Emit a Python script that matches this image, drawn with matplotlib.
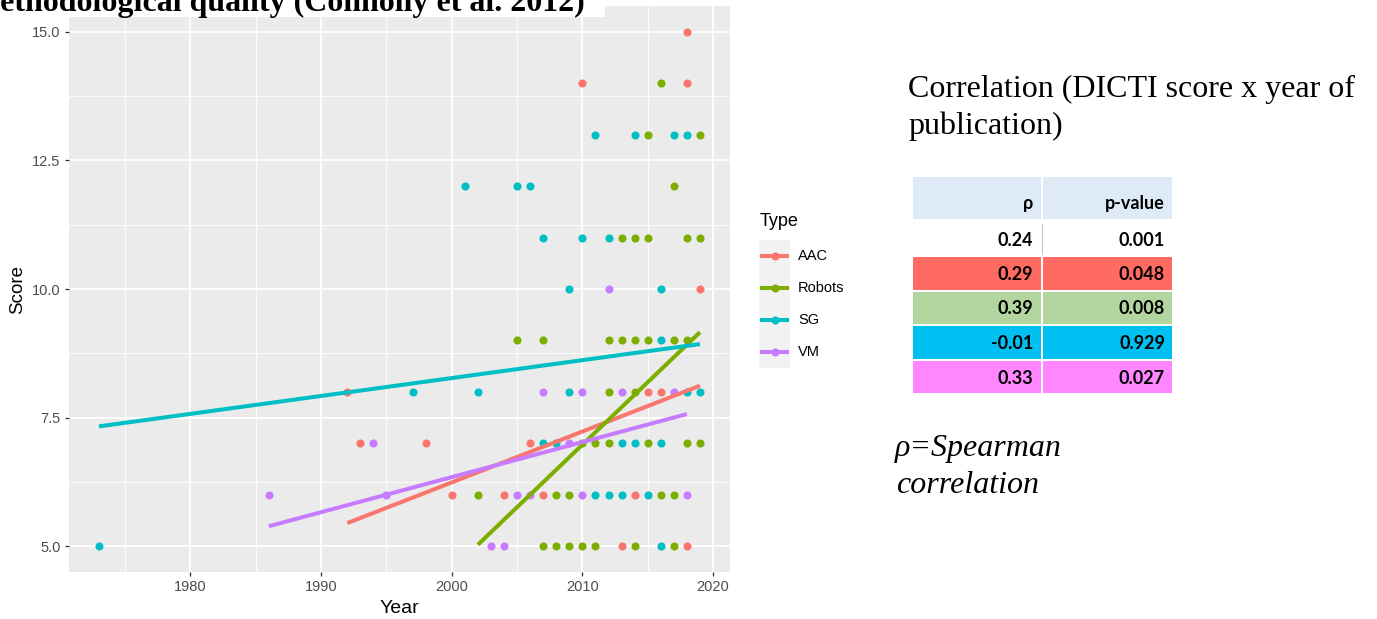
import numpy as np
import matplotlib
matplotlib.use("Agg")
import matplotlib.pyplot as plt
from matplotlib.patches import Rectangle
from matplotlib.lines import Line2D

# ---------------- data ----------------
types = ["AAC", "Robots", "SG", "VM"]
colors = ["#F8766D", "#7CAE00", "#00BFC4", "#C77CFF"]

aac_year  = [2018, 2010, 2018, 2019, 2015, 2016, 1992, 1993, 1998, 2006, 2000, 2004, 2007, 2014, 2013, 2018]
aac_score = [15,   14,   14,   10,   8,    8,    8,    7,    7,    7,    6,    6,    6,    6,    5,    5]

rob_year  = [2016, 2015, 2019, 2017, 2013, 2014, 2015, 2018, 2019,
             2005, 2007, 2012, 2013, 2014, 2015, 2017, 2018,
             2012, 2014, 2010, 2011, 2012, 2015, 2018, 2019,
             2002, 2008, 2009, 2016, 2017,
             2007, 2008, 2009, 2010, 2011, 2014, 2017]
rob_score = [14, 13, 13, 12, 11, 11, 11, 11, 11,
             9, 9, 9, 9, 9, 9, 9, 9,
             8, 8, 7, 7, 7, 7, 7, 7,
             6, 6, 6, 6, 6,
             5, 5, 5, 5, 5, 5, 5]

sg_year  = [2011, 2014, 2017, 2018, 2001, 2005, 2006, 2007, 2010, 2012, 2009, 2016, 2016,
            1997, 2002, 2009, 2018, 2019, 2007, 2008, 2013, 2014, 2016,
            2011, 2012, 2013, 2015, 1973, 2016]
sg_score = [13, 13, 13, 13, 12, 12, 12, 11, 11, 11, 10, 10, 9,
            8, 8, 8, 8, 8, 7, 7, 7, 7, 7,
            6, 6, 6, 6, 5, 5]

vm_year  = [2012, 2007, 2010, 2013, 2017, 1994, 2009, 1986, 1995, 2005, 2006, 2010, 2018, 2003, 2004]
vm_score = [10,   8,    8,    8,    8,    7,    7,    6,    6,    6,    6,    6,    6,    5,    5]

years = [aac_year, rob_year, sg_year, vm_year]
scores = [aac_score, rob_score, sg_score, vm_score]

# linear-fit lines: start/end year and fitted score
fit_start_year  = [1992, 2002, 1973, 1986]
fit_end_year    = [2019, 2019, 2019, 2018]
fit_start_score = [5.45, 5.03, 7.33, 5.39]
fit_end_score   = [8.12, 9.16, 8.93, 7.57]

x_ticks = [1980, 1990, 2000, 2010, 2020]
y_ticks = [5.0, 7.5, 10.0, 12.5, 15.0]

table_header = ["ρ", "p-value"]
table_rho  = ["0.24", "0.29", "0.39", "-0.01", "0.33"]
table_pval = ["0.001", "0.048", "0.008", "0.929", "0.027"]
table_colors = ["#FFFFFF", "#FF6A62", "#B3D59F", "#00BFF1", "#FF86FF"]

# ---------------- figure ----------------
W, H = 1377, 619
fig = plt.figure(figsize=(W / 100, H / 100), dpi=100)
fig.patch.set_facecolor("white")

def px_rect(l, t, r, b):
    return [l / W, 1 - b / H, (r - l) / W, (b - t) / H]

sans = "Liberation Sans"
serif = "Liberation Serif"

ax = fig.add_axes(px_rect(69, 6, 730, 572))
ax.set_facecolor("#EBEBEB")
for s in ax.spines.values():
    s.set_visible(False)
ax.set_xlim(1970.7, 2021.3)
ax.set_ylim(4.5, 15.5)
ax.set_xticks(x_ticks)
ax.set_yticks(y_ticks)
ax.set_yticklabels([f"{v:.1f}" for v in y_ticks])
ax.set_xticks([1975, 1985, 1995, 2005, 2015], minor=True)
ax.set_yticks([6.25, 8.75, 11.25, 13.75], minor=True)
ax.grid(True, which="major", color="white", linewidth=1.3)
ax.grid(True, which="minor", color="white", linewidth=0.6)
ax.set_axisbelow(True)
ax.tick_params(which="major", length=3, width=0.9, color="#333333",
               labelcolor="#4D4D4D", labelsize=10.5, pad=3)
ax.tick_params(which="minor", length=0)
for lab in ax.get_xticklabels() + ax.get_yticklabels():
    lab.set_fontfamily(sans)
ax.set_xlabel("Year", fontsize=14, fontfamily=sans, labelpad=4)
ax.set_ylabel("Score", fontsize=13.5, fontfamily=sans, labelpad=4)

for i in range(len(types)):
    ax.scatter(years[i], scores[i], s=34, color=colors[i], linewidths=0, zorder=3)
for i in range(len(types)):
    ax.plot([fit_start_year[i], fit_end_year[i]],
            [fit_start_score[i], fit_end_score[i]],
            color=colors[i], lw=2.9, solid_capstyle="butt", zorder=4)

# ---------------- overlay in pixel coords ----------------
ov = fig.add_axes([0, 0, 1, 1])
ov.set_xlim(0, W)
ov.set_ylim(H, 0)
ov.axis("off")
ov.patch.set_visible(False)

# cropped title (cut off by the top edge, as in the reference)
ov.add_patch(Rectangle((0, 0), 605, 17, facecolor="white", edgecolor="none", zorder=1))
ov.text(585, 11, "Methodological quality (Connolly et al. 2012)", ha="right", va="baseline",
        fontsize=23, fontweight="bold", fontfamily=serif, zorder=2, clip_on=False)

# legend
ov.text(760, 221, "Type", ha="left", va="center", fontsize=13, fontfamily=sans)
for i, t in enumerate(types):
    cy = 256 + 32 * i
    ov.add_patch(Rectangle((759, cy - 16), 31, 32, facecolor="#F2F2F2", edgecolor="none"))
    ov.add_line(Line2D([762, 787], [cy, cy], color=colors[i], lw=2.9))
    ov.plot([774.5], [cy], "o", color=colors[i], ms=5.8, mew=0)
    ov.text(798, cy, t, ha="left", va="center", fontsize=10.5, fontfamily=sans)

# right-hand text
ov.text(908, 97, "Correlation (DICTI score x year of", ha="left", va="baseline",
        fontsize=23, fontfamily=serif)
ov.text(908, 134, "publication)", ha="left", va="baseline", fontsize=23, fontfamily=serif)
ov.text(895, 456, "ρ=Spearman", ha="left", va="baseline", fontsize=23,
        fontfamily=serif, style="italic")
ov.text(896, 493, "correlation", ha="left", va="baseline", fontsize=23,
        fontfamily=serif, style="italic")

# table
tfont = ["Lato", "DejaVu Sans"]
L, M1, M2, R = 913, 1041, 1043, 1172
ov.add_patch(Rectangle((L, 177), M1 - L, 42, facecolor="#DEEBF6", edgecolor="none"))
ov.add_patch(Rectangle((M2, 177), R - M2, 42, facecolor="#DEEBF6", edgecolor="none"))
ov.text(1033, 203, table_header[0], ha="right", va="center", fontsize=13,
        fontweight="bold", family=tfont)
ov.text(1165, 203, table_header[1], ha="right", va="center", fontsize=13,
        fontweight="bold", family=tfont)
row_tops = [223, 257, 292, 326, 361]
row_bots = [255, 290, 324, 359, 393]
for i in range(len(table_rho)):
    t, b = row_tops[i], row_bots[i]
    ov.add_patch(Rectangle((L, t), M1 - L, b - t, facecolor=table_colors[i], edgecolor="none"))
    ov.add_patch(Rectangle((M2, t), R - M2, b - t, facecolor=table_colors[i], edgecolor="none"))
    cy = (t + b) / 2 + 1
    ov.text(1033, cy, table_rho[i], ha="right", va="center", fontsize=13,
            fontweight="bold", family=tfont)
    ov.text(1165, cy, table_pval[i], ha="right", va="center", fontsize=13,
            fontweight="bold", family=tfont)
ov.add_line(Line2D([1042, 1042], [224, 254], color="#C8C8C8", lw=0.8))

fig.savefig("out.png", dpi=100)
